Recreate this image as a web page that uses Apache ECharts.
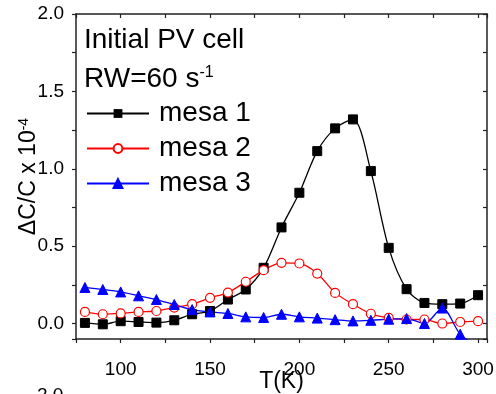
<!DOCTYPE html>
<html><head><meta charset="utf-8">
<script src="https://cdn.jsdelivr.net/npm/echarts@6/dist/echarts.min.js"></script>
<style>html,body{margin:0;padding:0;background:#fff}#c{width:496px;height:394px}</style>
</head><body><div id="c"></div>
<script>
const temps = [80,90,100,110,120,130,140,150,160,170,180,190,200,210,220,230,240,250,260,270,280,290,300];
const mesa1 = [0.004,-0.005,0.015,0.01,0.006,0.021,0.06,0.081,0.155,0.22,0.36,0.621,0.845,1.114,1.261,1.319,0.985,0.489,0.222,0.133,0.125,0.129,0.183];
const mesa2 = [0.075,0.06,0.065,0.075,0.081,0.103,0.125,0.166,0.2,0.27,0.345,0.392,0.388,0.323,0.198,0.125,0.063,0.037,0.026,0.026,0.0,0.01,0.015];
const mesa3 = [0.233,0.22,0.204,0.179,0.155,0.123,0.09,0.075,0.065,0.043,0.039,0.06,0.043,0.035,0.025,0.017,0.021,0.028,0.032,0.0,0.1,-0.069,-0.15];
const seriesNames = ['mesa 1','mesa 2','mesa 3'];
const xLabels = [100,150,200,250,300];
const yLabels = [0.0,0.5,1.0,1.5,2.0];

const FF = 'Liberation Sans, Arial, sans-serif';
const AX = '#222';
const pairs = v => temps.map((t,i)=>[t,v[i]]);
const chart = echarts.init(document.getElementById('c'), null, {renderer:'canvas'});

const baseX = {type:'value', min:75, max:305, minInterval:25, maxInterval:25,
  splitLine:{show:false}, axisLine:{show:true, onZero:false, lineStyle:{color:AX,width:1.5}}};
const baseY = {type:'value', min:-0.1, max:2.0, minInterval:0.25, maxInterval:0.25,
  splitLine:{show:false}, axisLine:{show:true, onZero:false, lineStyle:{color:AX,width:1.5}}};

chart.setOption({
  animation:false,
  backgroundColor:'#fff',
  grid:{left:76, right:9, top:14, bottom:55, containLabel:false, outerBoundsMode:'none'},
  xAxis:[
    Object.assign({}, baseX, {position:'bottom',
      axisTick:{show:true, inside:false, length:4, lineStyle:{color:AX,width:1.2}},
      axisLabel:{show:true, margin:21, fontSize:19, fontFamily:FF, color:'#000',
        formatter:v=> xLabels.includes(v) ? String(v) : ''},
      name:'T(K)', nameLocation:'middle', nameGap:31, nameMoveOverlap:false,
      nameTextStyle:{fontSize:23, fontFamily:FF, color:'#000'}}),
    Object.assign({}, baseX, {position:'top',
      axisTick:{show:true, inside:true, length:4, lineStyle:{color:AX,width:1.2}},
      axisLabel:{show:false}})
  ],
  yAxis:[
    Object.assign({}, baseY, {position:'left',
      axisTick:{show:true, inside:false, length:4, lineStyle:{color:AX,width:1.2}},
      axisLabel:{show:true, margin:12, fontSize:19, fontFamily:FF, color:'#000',
        formatter:v=> yLabels.some(y=>Math.abs(y-v)<1e-6) ? v.toFixed(1) : ''},
      name:'{a|ΔC/C x 10}{b|-4}', nameLocation:'middle', nameGap:36, nameRotate:90, nameMoveOverlap:false,
      nameTextStyle:{color:'#000', rich:{
        a:{fontSize:23, fontFamily:FF, color:'#000'},
        b:{fontSize:14, fontFamily:FF, color:'#000', verticalAlign:'top'}}}}),
    Object.assign({}, baseY, {position:'right',
      axisTick:{show:true, inside:true, length:4, lineStyle:{color:AX,width:1.2}},
      axisLabel:{show:false}})
  ],
  legend:{
    orient:'vertical', left:86, top:99, padding:0, itemWidth:62, itemHeight:11, itemGap:6,
    data:seriesNames,
    textStyle:{fontSize:28, fontFamily:FF, color:'#000', lineHeight:29, padding:[0,0,0,5]}
  },
  graphic:[
    {type:'text', left:84, top:26, style:{text:'Initial PV cell', font:'28px '+FF, fill:'#000'}},
    {type:'text', left:84, top:65, style:{text:'{a|RW=60 s}{b|-1}', fill:'#000',
      rich:{a:{fontSize:28, fontFamily:FF, fill:'#000'}, b:{fontSize:16, fontFamily:FF, fill:'#000', verticalAlign:'top'}}}},
    {type:'text', left:37, top:386, style:{text:'2.0', font:'19px '+FF, fill:'#000'}}
  ],
  series:[
    {name:seriesNames[0], type:'line', data:pairs(mesa1), smooth:0.3, clip:true,
      symbol:'rect', symbolSize:9, showAllSymbol:true,
      lineStyle:{color:'#000', width:1.3}, itemStyle:{color:'#000', borderColor:'#000'}},
    {name:seriesNames[1], type:'line', data:pairs(mesa2), smooth:0.3, clip:true,
      symbol:'circle', symbolSize:9, showAllSymbol:true,
      lineStyle:{color:'#ff0000', width:1.3}, itemStyle:{color:'#fff', borderColor:'#ff0000', borderWidth:1.2}},
    {name:seriesNames[2], type:'line', data:pairs(mesa3), smooth:0.3, clip:true,
      symbol:'triangle', symbolSize:10, showAllSymbol:true,
      lineStyle:{color:'#0000ff', width:1.3}, itemStyle:{color:'#0000ff', borderColor:'#0000ff', borderWidth:1}}
  ]
});
</script></body></html>
